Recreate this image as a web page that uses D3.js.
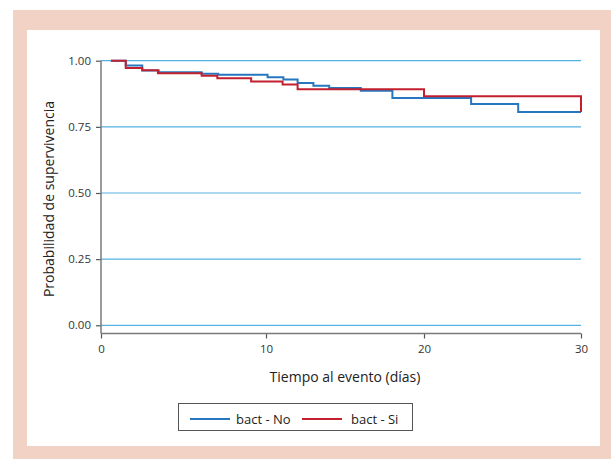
<!DOCTYPE html>
<html><head><meta charset="utf-8">
<script src="https://cdn.jsdelivr.net/npm/d3@7"></script>
<style>body{margin:0;background:#fff}svg{display:block}</style>
</head><body>
<svg id="c" width="611" height="459"></svg>
<script>
const xTicks = [0, 10, 20, 30];
const yTicks = [0, 0.25, 0.5, 0.75, 1];
const yTickLabels = ["0.00", "0.25", "0.50", "0.75", "1.00"];
const seriesNames = ["bact - No", "bact - Si"];
const seriesColors = ["#2677bf", "#c3202f"];
// step times and survival values
const noTimes = [0.6, 1.5, 2.5, 3.5, 6.1, 7.1, 10.1, 11.1, 12.0, 13.0, 14.0, 16.0, 18.0, 23.0, 26.0, 30];
const noSurv  = [1.0, 0.982, 0.963, 0.956, 0.951, 0.947, 0.937, 0.929, 0.916, 0.905, 0.897, 0.886, 0.859, 0.836, 0.806, 0.806];
const siTimes = [0.6, 1.5, 2.5, 3.45, 6.1, 7.05, 9.1, 11.05, 12.0, 20.0, 30, 30];
const siSurv  = [1.0, 0.972, 0.964, 0.953, 0.943, 0.934, 0.921, 0.910, 0.892, 0.866, 0.866, 0.806];

const svg = d3.select("#c");
// frame
svg.append("rect").attr("x",13).attr("y",10).attr("width",598).attr("height",449).attr("fill","#f2d2c4");
svg.append("rect").attr("x",27).attr("y",30).attr("width",573).attr("height",416).attr("fill","#fff");

const x = d3.scaleLinear().domain([0,10,20,30]).range([101,266,424,581]);
const y = d3.scaleLinear().domain([0,1]).range([325.3,60.7]);

// gridlines
svg.append("g").selectAll("line").data(yTicks).join("line")
  .attr("x1",x(0)).attr("x2",x(30)).attr("y1",d=>y(d)).attr("y2",d=>y(d))
  .attr("stroke","#55b2e2").attr("stroke-width",1.2);

const font = "'Open Sans', sans-serif";
// y axis
const yAxis = svg.append("g").attr("transform","translate(101,0)")
  .call(d3.axisLeft(y).tickValues(yTicks).tickFormat((d,i)=>yTickLabels[i]).tickSize(5).tickSizeOuter(0));
yAxis.select(".domain").remove();
yAxis.append("line").attr("x1",0).attr("x2",0).attr("y1",y(1)).attr("y2",333.5).attr("stroke","#7a7a7a").attr("stroke-width",1.5);
// x axis
const xAxis = svg.append("g").attr("transform","translate(0,333.5)")
  .call(d3.axisBottom(x).tickValues(xTicks).tickFormat(d3.format("d")).tickSize(5).tickSizeOuter(0));
xAxis.select(".domain").remove();
xAxis.append("line").attr("x1",x(0)).attr("x2",x(30)).attr("y1",0).attr("y2",0).attr("stroke","#7a7a7a").attr("stroke-width",1.5);

[yAxis,xAxis].forEach(a=>{
  a.selectAll(".tick line").attr("stroke","#555").attr("stroke-width",1.2);
  a.selectAll(".tick text").attr("fill","#333").style("font-family",font).style("font-size","11.5px");
});
yAxis.selectAll(".tick text").attr("x",-10);
xAxis.selectAll(".tick text").attr("y",11);

// curves
const line = d3.line().x(d=>x(d[0])).y(d=>y(d[1])).curve(d3.curveStepAfter);
const mk = (t,s)=>t.map((v,i)=>[v,s[i]]);
svg.append("path").datum(mk(noTimes,noSurv)).attr("d",line).attr("fill","none")
  .attr("stroke",seriesColors[0]).attr("stroke-width",2);
svg.append("path").datum(mk(siTimes,siSurv)).attr("d",line).attr("fill","none")
  .attr("stroke",seriesColors[1]).attr("stroke-width",2);

// axis titles
svg.append("text").attr("x",345).attr("y",382).attr("text-anchor","middle")
  .style("font-family",font).style("font-size","14px").attr("fill","#222").text("Tiempo al evento (días)");
svg.append("text").attr("transform","translate(54,199) rotate(-90)").attr("text-anchor","middle")
  .style("font-family",font).style("font-size","14px").attr("fill","#222").text("Probabilidad de supervivencia");

// legend
const lg = svg.append("g");
lg.append("rect").attr("x",178.5).attr("y",403.5).attr("width",234).attr("height",27)
  .attr("fill","#fff").attr("stroke","#555").attr("stroke-width",1);
const lx = [190, 302], tx = [236, 351];
seriesNames.forEach((n,i)=>{
  lg.append("line").attr("x1",lx[i]).attr("x2",lx[i]+40).attr("y1",419).attr("y2",419)
    .attr("stroke",seriesColors[i]).attr("stroke-width",2);
  lg.append("text").attr("x",tx[i]).attr("y",424).style("font-family",font).style("font-size","13px")
    .attr("fill","#222").text(n);
});
</script>
</body></html>
